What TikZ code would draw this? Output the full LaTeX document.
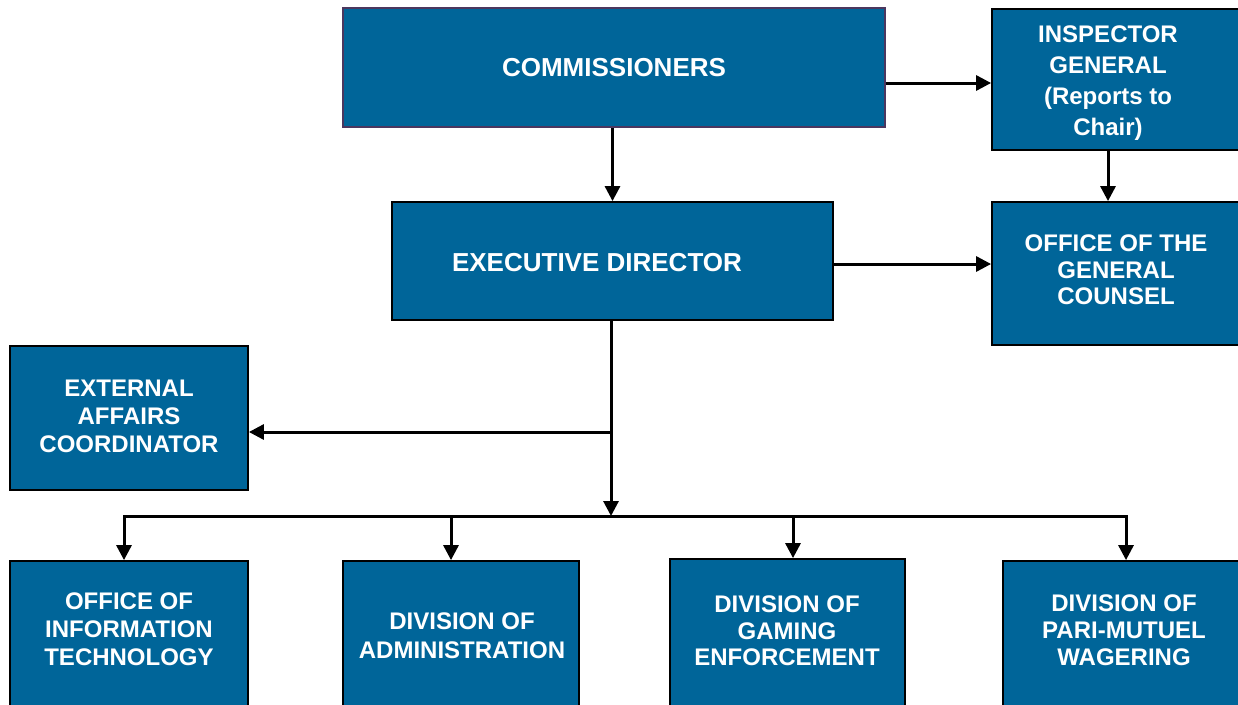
\documentclass[tikz,border=0pt]{standalone}
\usepackage{fontspec}
\setmainfont{Liberation Sans}
\usetikzlibrary{arrows.meta}
\definecolor{boxblue}{RGB}{0,101,153}
\definecolor{boardline}{RGB}{75,55,95}
\begin{document}
\begin{tikzpicture}[x=1pt,y=-1pt,
  unit/.style={rectangle,draw=black,line width=1.8pt,fill=boxblue,inner sep=0pt},
  caption/.style={text=white,font=\fontsize{24}{28}\selectfont\bfseries,align=center,inner sep=0pt},
  link/.style={line width=3pt,-{Triangle[length=15pt,width=15pt]}}]
\useasboundingbox (0,0) rectangle (1238,704);
\clip (0,0) rectangle (1238,704);
\node[unit,draw=boardline,minimum width=542pt,minimum height=119pt] (comm) at (614,67.5) {};
\node[caption,font=\fontsize{26}{30}\selectfont\bfseries] (comm-t) at (614,68) {COMMISSIONERS};
\node[unit,minimum width=258pt,minimum height=141pt] (ig) at (1121,79.5) {};
\node[caption,font=\fontsize{24}{31}\selectfont\bfseries] (ig-t) at (1108,83) {INSPECTOR\\GENERAL\\(Reports to\\Chair)};
\node[unit,minimum width=258pt,minimum height=143pt] (ogc) at (1121,273.5) {};
\node[caption,font=\fontsize{24}{26.5}\selectfont\bfseries] (ogc-t) at (1116,270) {OFFICE OF THE\\GENERAL\\COUNSEL};
\node[unit,minimum width=441pt,minimum height=118pt] (ed) at (612.5,261) {};
\node[caption,font=\fontsize{26}{30}\selectfont\bfseries] (ed-t) at (597,263) {EXECUTIVE DIRECTOR};
\node[unit,minimum width=238pt,minimum height=144pt] (eac) at (129,418) {};
\node[caption] (eac-t) at (129,416) {EXTERNAL\\AFFAIRS\\COORDINATOR};
\node[unit,minimum width=238pt,minimum height=154pt] (oit) at (129,638) {};
\node[caption] (oit-t) at (129,629) {OFFICE OF\\INFORMATION\\TECHNOLOGY};
\node[unit,minimum width=236pt,minimum height=154pt] (adm) at (461,638) {};
\node[caption,font=\fontsize{24}{29}\selectfont\bfseries] (adm-t) at (462,636) {DIVISION OF\\ADMINISTRATION};
\node[unit,minimum width=235pt,minimum height=156pt] (gam) at (787.5,637) {};
\node[caption,font=\fontsize{24}{26.5}\selectfont\bfseries] (gam-t) at (787,631) {DIVISION OF\\GAMING\\ENFORCEMENT};
\node[unit,minimum width=247pt,minimum height=154pt] (pmw) at (1126.5,638) {};
\node[caption,font=\fontsize{24}{27}\selectfont\bfseries] (pmw-t) at (1124,630) {DIVISION OF\\PARI-MUTUEL\\WAGERING};
\coordinate (split) at (611,432);
\coordinate (bus) at (611,516);
\draw[link] (ed.north |- comm.south) -- (ed.north);
\draw[link] (comm.east |- 0,83) -- (ig.west |- 0,83);
\draw[link] (1108,0 |- ig.south) -- (1108,0 |- ogc.north);
\draw[link] (ed.east |- 0,264) -- (ogc.west |- 0,264);
\draw[link] (ed.south -| split) -- (bus);
\draw[link] (split) -- (split -| eac.east);
\draw[line width=3pt,line cap=rect] (124,516) -- (1126,516);
\foreach \n/\x in {oit/124,adm/451,gam/793,pmw/1126}
  \draw[link] (\x,516) -- (\x,0 |- \n.north);
\end{tikzpicture}
\end{document}
